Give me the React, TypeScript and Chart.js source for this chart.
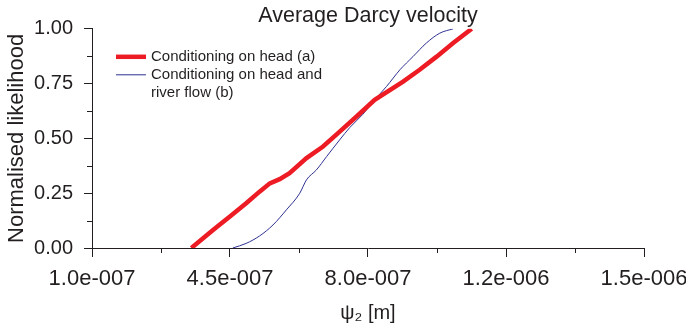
import React, { useEffect, useRef } from "react";
import { Chart, registerables } from "chart.js";

Chart.register(...registerables);

const chartTitle = "Average Darcy velocity";
const xAxisTitle = "ψ₂ [m]";
const yAxisTitle = "Normalised likelihood";

const xTickValues = [1.0e-7, 4.5e-7, 8.0e-7, 1.15e-6, 1.5e-6];
const xTickLabels = ["1.0e-007", "4.5e-007", "8.0e-007", "1.2e-006", "1.5e-006"];
const xMinorTicks = [2.75e-7, 6.25e-7, 9.75e-7, 1.325e-6];
const yTickValues = [0, 0.25, 0.5, 0.75, 1.0];
const yMinorTicks = [0.125, 0.375, 0.625, 0.875];

const seriesALabel = ["Conditioning on head (a)"];
const seriesBLabel = ["Conditioning on head and", "river flow (b)"];

// Series (a): conditioning on head
const redX = [3.52e-7, 4.07e-7, 4.49e-7, 4.91e-7, 5.25e-7, 5.51e-7, 5.76e-7, 6.01e-7, 6.44e-7, 6.86e-7, 7.24e-7, 7.71e-7, 8.17e-7, 8.89e-7, 9.31e-7, 9.74e-7, 1.016e-6, 1.063e-6];
const redY = [0, 0.082, 0.143, 0.204, 0.257, 0.295, 0.314, 0.341, 0.41, 0.463, 0.524, 0.6, 0.676, 0.759, 0.813, 0.873, 0.935, 1.0];

// Series (b): conditioning on head and river flow
const blueX = [4.57e-7, 4.91e-7, 5.25e-7, 5.59e-7, 5.93e-7, 6.27e-7, 6.44e-7, 6.69e-7, 6.95e-7, 7.28e-7, 7.54e-7, 7.87e-7, 8.17e-7, 8.47e-7, 8.81e-7, 9.14e-7, 9.48e-7, 9.82e-7, 1.016e-6];
const blueY = [0, 0.021, 0.055, 0.105, 0.174, 0.25, 0.311, 0.356, 0.417, 0.493, 0.55, 0.61, 0.676, 0.737, 0.813, 0.873, 0.935, 0.98, 1.0];

const RED = "#ed1c24";
const BLUE = "#2e3192";
const INK = "#231f20";
const FONT = "'Liberation Sans', Arial, Helvetica, sans-serif";

const minorTicksPlugin = {
  id: "minorTicks",
  afterDraw(chart: any) {
    const ctx = chart.ctx;
    const xs = chart.scales.x;
    const ys = chart.scales.y;
    ctx.save();
    ctx.strokeStyle = INK;
    ctx.lineWidth = 1;
    ctx.beginPath();
    xMinorTicks.forEach((v) => {
      const px = Math.round(xs.getPixelForValue(v)) + 0.5;
      ctx.moveTo(px, xs.top);
      ctx.lineTo(px, xs.top + 5);
    });
    yMinorTicks.forEach((v) => {
      const py = Math.round(ys.getPixelForValue(v)) + 0.5;
      ctx.moveTo(ys.right - 5, py);
      ctx.lineTo(ys.right, py);
    });
    ctx.stroke();
    ctx.restore();
  },
};

const legendPlugin = {
  id: "insideLegend",
  afterDatasetsDraw(chart: any) {
    const ctx = chart.ctx;
    const area = chart.chartArea;
    const x0 = area.left + 24;
    const y0 = area.top + 28;
    const lineH = 18;
    ctx.save();
    ctx.font = `15px ${FONT}`;
    ctx.fillStyle = INK;
    ctx.textBaseline = "middle";
    ctx.textAlign = "left";
    const items = [
      { lines: seriesALabel, color: RED, width: 4.5 },
      { lines: seriesBLabel, color: BLUE, width: 1 },
    ];
    let y = y0;
    items.forEach((it) => {
      ctx.strokeStyle = it.color;
      ctx.lineWidth = it.width;
      ctx.beginPath();
      ctx.moveTo(x0, y);
      ctx.lineTo(x0 + 30, y);
      ctx.stroke();
      it.lines.forEach((t, i) => {
        ctx.fillText(t, x0 + 35, y + i * lineH);
      });
      y += it.lines.length * lineH;
    });
    ctx.restore();
  },
};

export default function App() {
  const ref = useRef<HTMLCanvasElement>(null);
  useEffect(() => {
    document.body.style.margin = "0";
    const canvas = ref.current!;
    const chart = new Chart(canvas, {
      type: "line",
      data: {
        datasets: [
          {
            label: seriesALabel.join(" "),
            data: redX.map((x, i) => ({ x, y: redY[i] })),
            borderColor: RED,
            backgroundColor: RED,
            borderWidth: 4.5,
            pointRadius: 0,
            tension: 0,
          },
          {
            label: seriesBLabel.join(" "),
            data: blueX.map((x, i) => ({ x, y: blueY[i] })),
            borderColor: BLUE,
            backgroundColor: BLUE,
            borderWidth: 1,
            pointRadius: 0,
            cubicInterpolationMode: "monotone",
          },
        ],
      },
      options: {
        responsive: false,
        animation: false,
        layout: { padding: { left: 0, right: 42, top: 0, bottom: 0 } },
        plugins: {
          legend: { display: false },
          tooltip: { enabled: false },
          title: {
            display: true,
            fullSize: false,
            text: chartTitle,
            color: INK,
            font: { family: FONT, size: 21.5, weight: "normal" },
            padding: { top: 3, bottom: 0 },
          },
        },
        scales: {
          x: {
            type: "linear",
            min: 1.0e-7,
            max: 1.5e-6,
            afterBuildTicks: (s: any) => {
              s.ticks = xTickValues.map((v) => ({ value: v }));
            },
            afterFit: (s: any) => {
              s.height = 82;
              s.paddingLeft = 0;
              s.paddingRight = 0;
            },
            ticks: {
              autoSkip: false,
              maxRotation: 0,
              color: INK,
              padding: 9,
              font: { family: FONT, size: 22 },
              callback: (_v: any, i: number) => xTickLabels[i],
            },
            grid: { display: true, drawOnChartArea: false, drawTicks: true, tickLength: 9, color: INK },
            border: { display: true, color: INK, width: 1 },
            title: {
              display: true,
              text: xAxisTitle,
              color: INK,
              font: { family: FONT, size: 20 },
              padding: { top: 0, bottom: 5 },
            },
          },
          y: {
            type: "linear",
            min: 0,
            max: 1,
            afterBuildTicks: (s: any) => {
              s.ticks = yTickValues.map((v) => ({ value: v }));
            },
            afterFit: (s: any) => {
              s.width = 92;
            },
            ticks: {
              color: INK,
              padding: 11,
              font: { family: FONT, size: 20 },
              callback: (v: any) => Number(v).toFixed(2),
            },
            grid: { display: true, drawOnChartArea: false, drawTicks: true, tickLength: 8, color: INK },
            border: { display: true, color: INK, width: 1 },
            title: {
              display: true,
              text: yAxisTitle,
              color: INK,
              font: { family: FONT, size: 22 },
              padding: { top: 4, bottom: 0 },
            },
          },
        },
      },
      plugins: [minorTicksPlugin, legendPlugin],
    });
    return () => chart.destroy();
  }, []);
  return (
    <div style={{ width: 686, height: 330 }}>
      <canvas ref={ref} width={686} height={330} />
    </div>
  );
}
